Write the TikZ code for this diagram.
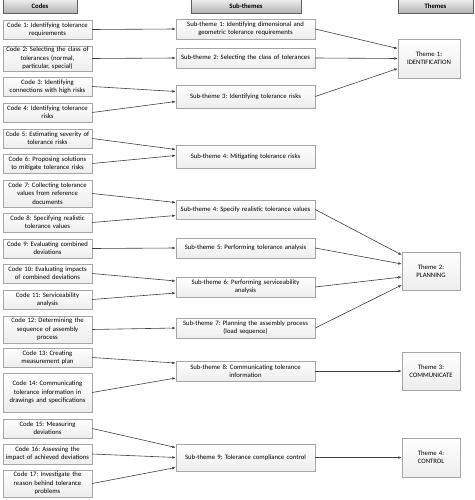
\documentclass[tikz,border=0pt]{standalone}
\usepackage{fontspec}
\setmainfont{Carlito}
\usetikzlibrary{arrows.meta,shadows}
\begin{document}
\frenchspacing
\begin{tikzpicture}[x=1pt,y=-1pt,
    box/.style={draw=gray!70, top color=white, bottom color=gray!14, inner sep=1pt, align=center,
      font=\fontsize{6.7}{8.3}\selectfont,
      drop shadow={shadow xshift=0.8pt, shadow yshift=-0.8pt, opacity=0.3}},
    codebox/.style={box, minimum width=89pt, text width=87pt},
    subbox/.style={box, minimum width=139pt, text width=137pt},
    themebox/.style={box, minimum width=58pt, text width=56pt, minimum height=38pt},
    headbox/.style={draw=gray!75!black, top color=gray!12, bottom color=gray!60, minimum height=14pt,
      font=\fontsize{6.7}{8}\selectfont\bfseries,
      drop shadow={shadow xshift=0.8pt, shadow yshift=-0.8pt, opacity=0.3}},
    arr/.style={draw=black!75, line width=0.6pt, -{Latex[length=3.5pt,width=2.6pt]}}
  ]
  \useasboundingbox (0,0) rectangle (474,500);

  \node[headbox, minimum width=74pt] (hcodes) at (40,6) {Codes};
  \node[headbox, minimum width=110pt] (hsub) at (246,6) {Sub-themes};
  \node[headbox, minimum width=75pt] (hthemes) at (435.5,6) {Themes};

  \node[codebox, minimum height=19pt] (c1) at (47.5,29.5) {Code 1: Identifying tolerance\\requirements};
  \node[codebox, minimum height=25pt] (c2) at (47.5,58.5) {Code 2: Selecting the class of\\tolerances (normal,\\particular, special)};
  \node[codebox, minimum height=19pt] (c3) at (47.5,86.5) {Code 3: Identifying\\connections with high risks};
  \node[codebox, minimum height=19pt] (c4) at (47.5,112.5) {Code 4: Identifying tolerance\\risks};
  \node[codebox, minimum height=19pt] (c5) at (47.5,138.5) {Code 5: Estimating severity of\\tolerance risks};
  \node[codebox, minimum height=19pt] (c6) at (47.5,163.5) {Code 6: Proposing solutions\\to mitigate tolerance risks};
  \node[codebox, minimum height=27pt] (c7) at (47.5,193.5) {Code 7: Collecting tolerance\\values from reference\\documents};
  \node[codebox, minimum height=19pt] (c8) at (47.5,222.5) {Code 8: Specifying realistic\\tolerance values};
  \node[codebox, minimum height=19pt] (c9) at (47.5,248.5) {Code 9: Evaluating combined\\deviations};
  \node[codebox, minimum height=19pt] (c10) at (47.5,273.5) {Code 10: Evaluating impacts\\of combined deviations};
  \node[codebox, minimum height=19pt] (c11) at (47.5,299.5) {Code 11: Serviceability\\analysis};
  \node[codebox, minimum height=27pt] (c12) at (47.5,329.5) {Code 12: Determining the\\sequence of assembly\\process};
  \node[codebox, minimum height=19pt] (c13) at (47.5,357.5) {Code 13: Creating\\measurement plan};
  \node[codebox, minimum height=39pt] (c14) at (47.5,392.5) {Code 14: Communicating\\tolerance information in\\drawings and specifications};
  \node[codebox, minimum height=19pt] (c15) at (47.5,428.5) {Code 15: Measuring\\deviations};
  \node[codebox, minimum height=20pt] (c16) at (47.5,454) {Code 16: Assessing the\\impact of achieved deviations};
  \node[codebox, minimum height=27pt] (c17) at (47.5,483.5) {Code 17: Investigate the\\reason behind tolerance\\problems};

  \node[subbox, minimum height=20pt] (s1) at (245.5,29) {Sub-theme 1: Identifying dimensional and\\geometric tolerance requirements};
  \node[subbox, minimum height=20pt] (s2) at (245.5,58) {Sub-theme 2: Selecting the class of tolerances};
  \node[subbox, minimum height=23pt] (s3) at (245.5,96.5) {Sub-theme 3: Identifying tolerance risks};
  \node[subbox, minimum height=23pt] (s4) at (245.5,156.5) {Sub-theme 4: Mitigating tolerance risks};
  \node[subbox, minimum height=19pt] (s4b) at (245.5,209.5) {Sub-theme 4: Specify realistic tolerance values};
  \node[subbox, minimum height=20pt] (s5) at (245.5,248) {Sub-theme 5: Performing tolerance analysis};
  \node[subbox, minimum height=20pt] (s6) at (245.5,287) {Sub-theme 6: Performing serviceability\\analysis};
  \node[subbox, minimum height=20pt] (s7) at (245.5,328) {Sub-theme 7: Planning the assembly process\\(load sequence)};
  \node[subbox, minimum height=20pt] (s8) at (245.5,371) {Sub-theme 8: Communicating tolerance\\information};
  \node[subbox, minimum height=27pt] (s9) at (245.5,457.5) {Sub-theme 9: Tolerance compliance control};

  \node[themebox, minimum width=62pt, text width=60pt, minimum height=39pt] (t1) at (429,58.5) {Theme 1:\\IDENTIFICATION};
  \node[themebox] (t2) at (431,271) {Theme 2:\\PLANNING};
  \node[themebox] (t3) at (431,371) {Theme 3:\\COMMUNICATE};
  \node[themebox, minimum height=39pt] (t4) at (431,457.5) {Theme 4:\\CONTROL};

  \draw[arr] (c1.east) -- (s1.west);
  \draw[arr] (c2.east) -- (s2.west);
  \draw[arr] (c3.east) -- ([yshift=5pt]s3.west);
  \draw[arr] (c4.east) -- ([yshift=-5pt]s3.west);
  \draw[arr] (c5.east) -- ([yshift=7pt]s4.west);
  \draw[arr] (c6.east) -- ([yshift=1pt]s4.west);
  \draw[arr] (c7.east) -- ([yshift=7pt]s4b.west);
  \draw[arr] (c8.east) -- ([yshift=-6pt]s4b.west);
  \draw[arr] (c9.east) -- (s5.west);
  \draw[arr] (c10.east) -- ([yshift=6pt]s6.west);
  \draw[arr] (c11.east) -- ([yshift=-6pt]s6.west);
  \draw[arr] (c12.east) -- (s7.west);
  \draw[arr] (c13.east) -- ([yshift=8pt]s8.west);
  \draw[arr] (c14.east) -- ([yshift=-7pt]s8.west);
  \draw[arr] (c15.east) -- ([yshift=10pt]s9.west);
  \draw[arr] (c16.east) -- (s9.west);
  \draw[arr] (c17.east) -- ([yshift=-10pt]s9.west);

  \draw[arr] (s1.east) -- ([yshift=10pt]t1.west);
  \draw[arr] (s2.east) -- (t1.west);
  \draw[arr] (s3.east) -- ([yshift=-10pt]t1.west);
  \draw[arr] (s4b.east) -- ([yshift=16pt]t2.west);
  \draw[arr] (s5.east) -- ([yshift=7pt]t2.west);
  \draw[arr] (s6.east) -- ([yshift=-6pt]t2.west);
  \draw[arr] (s7.east) -- ([yshift=-14pt]t2.west);
  \draw[arr] (s8.east) -- (t3.west);
  \draw[arr] (s9.east) -- (t4.west);
\end{tikzpicture}
\end{document}
